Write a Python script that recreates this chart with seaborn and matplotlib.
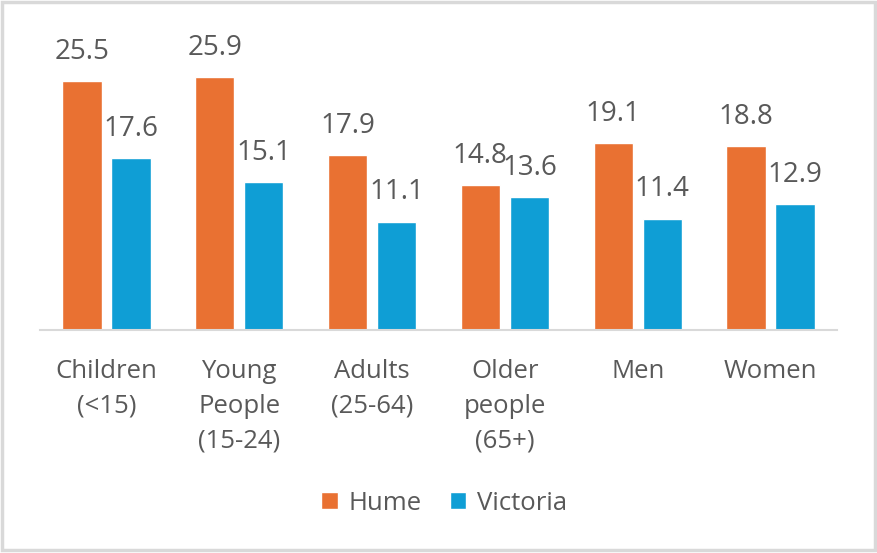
import pandas as pd
import matplotlib
matplotlib.use("Agg")
import matplotlib.pyplot as plt
import seaborn as sns
from matplotlib.patches import Rectangle

# data
groups = ['Children\n(<15)', 'Young\nPeople\n(15-24)', 'Adults\n(25-64)',
          'Older\npeople\n(65+)', 'Men', 'Women']
hume = [25.5, 25.9, 17.9, 14.8, 19.1, 18.8]
victoria = [17.6, 15.1, 11.1, 13.6, 11.4, 12.9]
series = ['Hume', 'Victoria']
colours = ['#E97132', '#0F9ED5']

df = pd.DataFrame({'group': groups * 2,
                   'value': hume + victoria,
                   'region': ['Hume'] * len(groups) + ['Victoria'] * len(groups)})

sns.set_style('white')
plt.rcParams['font.family'] = ['Open Sans', 'DejaVu Sans']
text_col = '#595959'

W, H = 877, 553
fig = plt.figure(figsize=(W / 100, H / 100), dpi=100)
ymax = 30
px_per_unit = 253 / 25.9
ax = fig.add_axes([40 / W, (H - 330) / H, 797 / W, ymax * px_per_unit / H])

sns.barplot(data=df, x='group', y='value', hue='region', hue_order=series,
            palette=colours, width=0.74, gap=0.2, saturation=1, ax=ax,
            legend=True)

ax.set_ylim(0, ymax)
ax.set_xlim(-0.5, len(groups) - 0.5)
for c in ax.containers:
    ax.bar_label(c, fmt='%.1f', padding=11, fontsize=20, color=text_col)

for s in ['top', 'left', 'right']:
    ax.spines[s].set_visible(False)
ax.spines['bottom'].set_color('#d9d9d9')
ax.spines['bottom'].set_linewidth(1.5)
ax.set_yticks([])
ax.set_xlabel('')
ax.set_ylabel('')
ax.tick_params(axis='x', length=0, pad=21, labelsize=18.5, labelcolor=text_col)
for t in ax.get_xticklabels():
    t.set_linespacing(1.5)
    t.set_verticalalignment('top')

ax.legend(loc='center', bbox_to_anchor=(444 / W, (H - 503) / H),
          bbox_transform=fig.transFigure, ncol=2, frameon=False,
          fontsize=18.5, labelcolor=text_col, handlelength=0.65, handleheight=0.65,
          handletextpad=0.4, columnspacing=1.1)

# outer chart border
fig.patches.append(Rectangle((1.5 / W, 3 / H), (W - 4) / W, (H - 4.5) / H,
                             transform=fig.transFigure, fill=False,
                             edgecolor='#d9d9d9', linewidth=2.5))

fig.savefig('out.png', dpi=100)
